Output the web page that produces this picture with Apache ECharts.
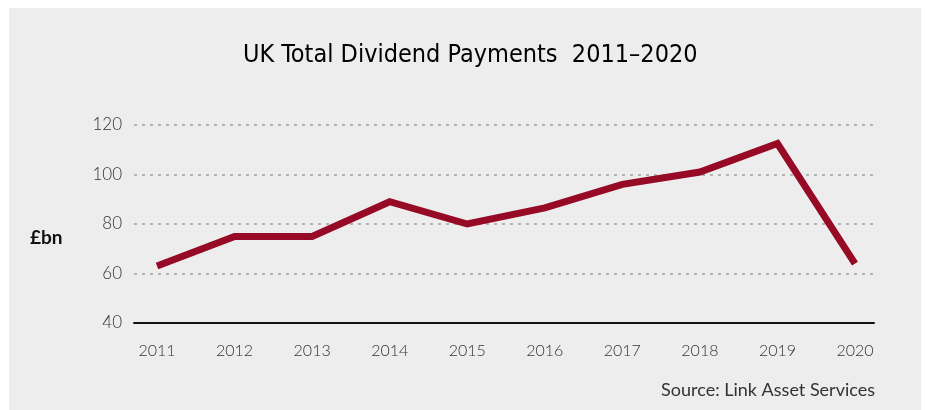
<!DOCTYPE html>
<html>
<head>
<meta charset="utf-8">
<script src="https://cdn.jsdelivr.net/npm/echarts@6/dist/echarts.min.js"></script>
<style>
html,body{margin:0;padding:0;background:#ffffff;width:926px;height:410px;overflow:hidden;}
#chart{position:absolute;left:9px;top:8px;width:912px;height:402px;}
</style>
</head>
<body>
<div id="chart"></div>
<script>
var years = [2011, 2012, 2013, 2014, 2015, 2016, 2017, 2018, 2019, 2020];
var dividends = [63, 75, 75, 89, 80, 86.5, 96, 101, 112.5, 64];
var yTicks = [40, 60, 80, 100, 120];

var chart = echarts.init(document.getElementById('chart'));
var pts = years.map(function (y, i) { return [y, dividends[i]]; });
var lightFont = 'Lato, "Open Sans", sans-serif';

chart.setOption({
  backgroundColor: '#ededed',
  animation: false,
  title: {
    text: 'UK Total Dividend Payments  2011\u20132020',
    left: 229,
    top: 30,
    textStyle: {
      fontFamily: '"Liberation Sans Narrow", "DejaVu Sans Condensed", "Roboto", sans-serif',
      fontSize: 25,
      fontWeight: 'normal',
      color: '#000000'
    }
  },
  graphic: [
    {
      type: 'text', left: 21, top: 220,
      style: { text: '\u00a3bn', font: 'bold 19px Lato, "Open Sans", sans-serif', fill: '#111111' }
    },
    {
      type: 'text', right: 46, top: 373,
      style: { text: 'Source: Link Asset Services', font: '18px ' + lightFont, fill: '#333333' }
    }
  ],
  grid: { left: 125, right: 47, top: 117, bottom: 87 },
  xAxis: {
    type: 'value',
    min: 2010.703,
    max: 2020.245,
    axisLine: { show: true, onZero: false, lineStyle: { color: '#111111', width: 2 } },
    axisTick: { show: false },
    splitLine: { show: false },
    axisLabel: {
      customValues: years,
      margin: 20,
      formatter: function (v) { return String(v); },
      fontFamily: lightFont,
      fontWeight: 300,
      fontSize: 16,
      color: '#333333'
    }
  },
  yAxis: {
    type: 'value',
    min: 40,
    max: 120,
    interval: 20,
    axisLine: { show: false },
    axisTick: { show: false },
    axisLabel: {
      margin: 12,
      fontFamily: lightFont,
      fontWeight: 300,
      fontSize: 17,
      color: '#333333'
    },
    splitLine: {
      show: true,
      lineStyle: { color: '#b3b3b3', width: 2, type: [3, 5] }
    }
  },
  series: [{
    type: 'line',
    data: pts,
    symbol: 'none',
    lineStyle: { color: '#960a26', width: 7, join: 'miter', cap: 'butt' }
  }]
});
</script>
</body>
</html>
